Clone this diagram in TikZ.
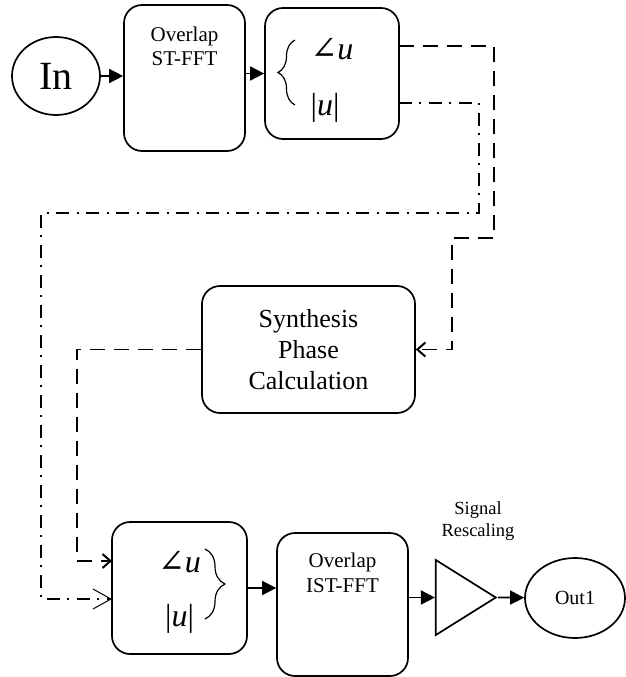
\documentclass[tikz,border=0pt]{standalone}
\usepackage{fontspec}
\setmainfont{Liberation Serif}
\newfontfamily\angsym{DejaVu Serif}
\usetikzlibrary{arrows.meta, positioning, shapes.geometric, decorations.pathreplacing}

\begin{document}
\begin{tikzpicture}[
    x=1pt, y=-1pt,
    line width=1.7pt,
    block/.style={
        draw,
        rounded corners=18pt,
        line width=1.7pt,
        inner sep=0pt
    },
    port/.style={
        draw,
        ellipse,
        line width=1.7pt,
        inner sep=2pt
    },
    polarfont/.style={font=\fontsize{32}{38}\selectfont},
    curly/.style={
        decorate,
        decoration={brace, amplitude=#1},
        line width=1.2pt
    },
    flow/.style={-{Triangle[length=14pt,width=14pt]}},
    phase/.style={
        dash pattern=on 15pt off 9pt,
        -{Straight Barb[length=8pt,width=14pt,line width=2pt]}
    },
    mag/.style={
        dash pattern=on 13pt off 7pt on 2pt off 8pt,
        -{Straight Barb[length=18pt,width=20pt,line width=1pt]}
    }
]
\useasboundingbox (0,0) rectangle (626,677);

% Blocks
\node[port, minimum width=88pt, minimum height=78pt,
      font=\fontsize{40}{42}\selectfont] (in) at (56,76) {In};
\node[block, minimum width=121pt, minimum height=146pt,
      label={[anchor=north, inner sep=0pt, yshift=-22pt, align=center,
              font=\fontsize{21}{24}\selectfont]north:{Overlap\\ST-FFT}}]
      (stfft) at (184.5,78) {};
\node[block, minimum width=134pt, minimum height=131pt,
      label={[yshift=-6.9pt, polarfont]center:{\begin{tabular}[c]{@{}l@{}}{\angsym ∠}\textit{u}\\[18pt]|\textit{u}|\end{tabular}}}]
      (polar) at (332,73.5) {};
\node[block, minimum width=213pt, minimum height=127pt, align=center,
      font=\fontsize{26}{31}\selectfont] (synth) at (308.5,349.5)
      {Synthesis\\Phase\\Calculation};
\node[block, minimum width=135pt, minimum height=132pt,
      label={[yshift=-3.4pt, polarfont]center:{\begin{tabular}[c]{@{}c@{}}{\angsym ∠}\textit{u}\\[16pt]|\textit{u}|\end{tabular}}}]
      (merge) at (179.5,588) {};
\node[block, minimum width=131pt, minimum height=143pt,
      label={[anchor=north, inner sep=0pt, yshift=-20pt, align=center,
              font=\fontsize{21}{25}\selectfont]north:{Overlap\\IST-FFT}}]
      (istfft) at (342.5,604.5) {};
\node[draw, isosceles triangle, isosceles triangle stretches,
      minimum width=75pt, minimum height=60pt, inner sep=0pt,
      anchor=apex] (gain) at (498,597.5) {};
\node[anchor=south, inner sep=0pt, align=center,
      font=\fontsize{18.5}{22}\selectfont] (gaintext) at (478,541)
      {Signal\\Rescaling};
\node[port, minimum width=100pt, minimum height=80pt,
      font=\fontsize{20}{24}\selectfont] (out) at (575,598) {Out1};

% Braces inside the split and merge blocks
\draw[curly=17pt] (295,105) -- (295,40);
\draw[curly=20pt] (205,549) -- (205,619);

% Taps on the split and merge blocks
\coordinate (phase out) at (399,46);
\coordinate (mag out) at (399,103);
\coordinate (phase in) at (112,561);
\coordinate (mag in) at (112,599);

% Signal path
\draw[flow] (in.east) -- (in.east -| stfft.west);
\draw[flow] (polar.west -| stfft.east) -- (polar.west);
\draw[flow] (merge.east) -- (merge.east -| istfft.west);
\draw[flow] (gain.lower side -| istfft.east) -- (gain.lower side);
\draw[flow] (gain.apex) -- (out);

% Phase and magnitude routes
\draw[phase] (phase out) -- (494,46) -- (494,238) -- (452,238) |- (synth.east);
\draw[phase] (synth.west) -| (77,561) -- (phase in);
\draw[mag] (mag out) -- (479,103) -- (479,213) -- (41,213) |- (mag in);
\end{tikzpicture}
\end{document}
